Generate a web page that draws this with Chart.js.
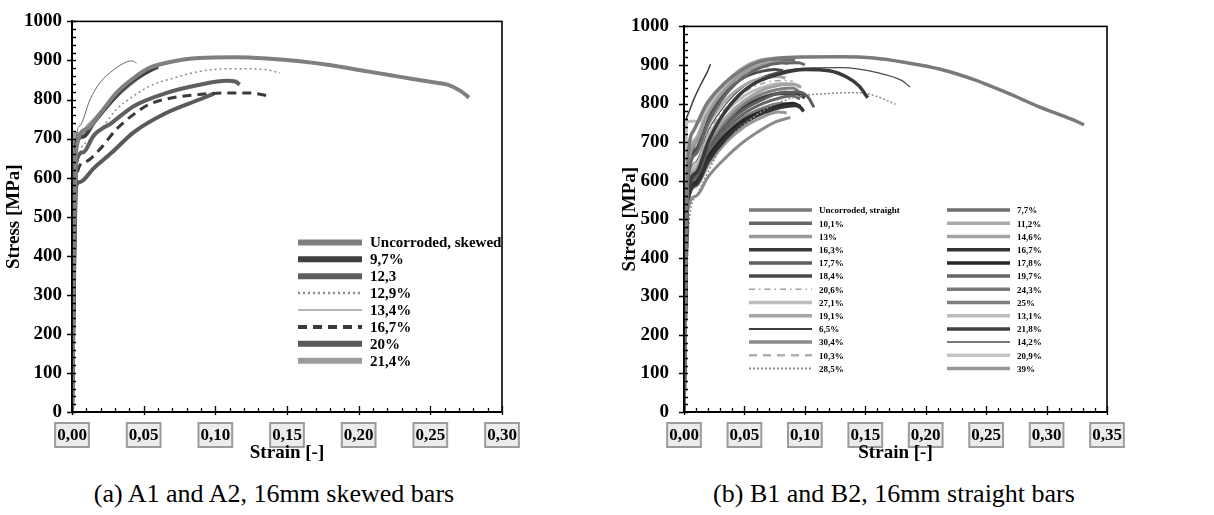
<!DOCTYPE html>
<html>
<head>
<meta charset="utf-8">
<script src="https://cdn.jsdelivr.net/npm/chart.js@4.4.1/dist/chart.umd.min.js"></script>
<style>
  html, body { margin: 0; padding: 0; background: #fff; }
  #wrap { position: relative; width: 1214px; height: 515px; overflow: hidden; background: #fff; }
  canvas { position: absolute; top: 0; }
  .cap { position: absolute; top: 479px; line-height: 30px; font-family: "Liberation Serif", "Times New Roman", serif; font-size: 26px; color: #000; white-space: nowrap; transform: translateX(-50%); }
</style>
</head>
<body>
<div id="wrap">
  <canvas id="cA" width="607" height="470" style="left:0px"></canvas>
  <canvas id="cB" width="607" height="470" style="left:607px"></canvas>
  <div class="cap" style="left:274px">(a) A1 and A2, 16mm skewed bars</div>
  <div class="cap" style="left:894px">(b) B1 and B2, 16mm straight bars</div>
</div>
<script>
// ---------- tick labels ----------
const yTickLabels = ['0','100','200','300','400','500','600','700','800','900','1000'];
const xTickLabelsA = ['0,00','0,05','0,10','0,15','0,20','0,25','0,30'];
const xTickLabelsB = ['0,00','0,05','0,10','0,15','0,20','0,25','0,30','0,35'];

// ---------- panel (a): [strain, stress MPa] ----------
const a_uncorroded = [[0,0],[0.003,673],[0.010,724],[0.020,766],[0.031,817],[0.043,855],[0.054,881],[0.071,898],[0.089,906],[0.113,908],[0.136,905],[0.159,898],[0.182,887],[0.206,872],[0.229,858],[0.252,844],[0.262,838],[0.271,822],[0.277,805]];
const a_9_7 = [[0,0],[0.003,690],[0.008,705],[0.015,740],[0.025,785],[0.035,825],[0.045,855],[0.053,872],[0.060,884]];
const a_12_3 = [[0,0],[0.003,640],[0.008,665],[0.015,707],[0.028,741],[0.043,783],[0.066,817],[0.089,838],[0.108,848],[0.114,846],[0.117,838]];
const a_12_9 = [[0,0],[0.003,600],[0.010,690],[0.020,724],[0.031,775],[0.043,809],[0.054,834],[0.071,855],[0.089,872],[0.113,879],[0.136,876],[0.145,868]];
const a_13_4 = [[0,0],[0.003,700],[0.0056,733],[0.0126,800],[0.0195,843],[0.029,876],[0.038,896],[0.042,899],[0.045,893]];
const a_16_7 = [[0,0],[0.003,600],[0.009,640],[0.0195,673],[0.031,724],[0.043,762],[0.054,788],[0.071,805],[0.089,813],[0.108,817],[0.124,817],[0.136,810]];
const a_20 = [[0,0],[0.003,580],[0.0056,589],[0.0149,623],[0.028,665],[0.043,716],[0.066,766],[0.089,800],[0.099,815]];
const a_21_4 = [[0,0],[0.002,712],[0.006,712],[0.012,735],[0.020,765],[0.030,805],[0.040,838],[0.050,865],[0.058,882]];

// ---------- panel (b): [strain, stress MPa] ----------
const b_uncorroded = [[0,0],[0.003,640],[0.008,730],[0.019,800],[0.033,851],[0.047,885],[0.060,906],[0.074,916],[0.091,920],[0.129,921],[0.157,918],[0.184,906],[0.212,889],[0.240,862],[0.267,828],[0.295,790],[0.320,760],[0.331,745]];
const b_10_1 = [[0,0],[0.003,590],[0.010,670],[0.020,750],[0.035,825],[0.050,870],[0.065,895],[0.080,905],[0.095,906],[0.100,900]];
const b_13 = [[0,0],[0.003,610],[0.010,700],[0.020,775],[0.035,840],[0.050,880],[0.065,900],[0.080,908],[0.086,903]];
const b_16_3 = [[0,0],[0.003,560],[0.010,620],[0.020,700],[0.030,760],[0.045,820],[0.060,855],[0.080,878],[0.100,888],[0.120,885],[0.135,868],[0.145,845],[0.152,815]];
const b_17_7 = [[0,0],[0.003,560],[0.010,610],[0.020,680],[0.035,745],[0.050,785],[0.065,810],[0.080,828],[0.095,830],[0.103,815],[0.1075,790]];
const b_18_4 = [[0,0],[0.003,600],[0.010,680],[0.020,760],[0.035,830],[0.050,868],[0.065,884],[0.075,888],[0.082,885]];
const b_20_6 = [[0,0],[0.003,580],[0.010,650],[0.020,725],[0.035,790],[0.050,830],[0.065,852],[0.080,860],[0.090,858]];
const b_27_1 = [[0,0],[0.002,752],[0.006,754],[0.012,754],[0.020,790],[0.035,850],[0.050,888],[0.062,903],[0.072,907],[0.076,903]];
const b_19_1 = [[0,0],[0.003,590],[0.010,670],[0.020,745],[0.035,810],[0.050,848],[0.065,866],[0.078,870],[0.084,866]];
const b_6_5 = [[0,0],[0.001,700],[0.003,770],[0.008,810],[0.014,850],[0.019,880],[0.022,902]];
const b_30_4 = [[0,0],[0.003,520],[0.010,560],[0.020,610],[0.033,655],[0.047,695],[0.061,726],[0.074,750],[0.088,764]];
const b_10_3 = [[0,0],[0.003,600],[0.010,690],[0.020,770],[0.035,838],[0.050,875],[0.062,892],[0.070,896]];
const b_28_5 = [[0,0],[0.004,480],[0.010,560],[0.030,680],[0.060,770],[0.090,815],[0.120,826],[0.145,828],[0.160,818],[0.175,798]];
const b_7_7 = [[0,0],[0.003,600],[0.010,690],[0.020,770],[0.035,840],[0.050,885],[0.065,906],[0.080,914],[0.092,912]];
const b_11_2 = [[0,0],[0.003,620],[0.010,710],[0.020,790],[0.035,855],[0.050,895],[0.065,914],[0.078,918],[0.088,915]];
const b_14_6 = [[0,0],[0.003,560],[0.010,630],[0.020,700],[0.035,765],[0.050,808],[0.065,835],[0.080,848],[0.090,850],[0.097,842]];
const b_16_7 = [[0,0],[0.003,540],[0.010,590],[0.020,650],[0.035,710],[0.050,750],[0.065,775],[0.080,790],[0.092,795],[0.097,788],[0.099,779]];
const b_17_8 = [[0,0],[0.003,545],[0.010,595],[0.020,660],[0.035,720],[0.050,758],[0.065,780],[0.080,795],[0.090,800],[0.0965,792]];
const b_19_7 = [[0,0],[0.003,555],[0.010,605],[0.020,670],[0.035,735],[0.050,775],[0.065,800],[0.080,815],[0.090,820],[0.096,812]];
const b_24_3 = [[0,0],[0.003,550],[0.010,600],[0.020,660],[0.035,725],[0.050,765],[0.065,788],[0.080,800],[0.088,798]];
const b_25 = [[0,0],[0.003,560],[0.010,620],[0.020,690],[0.035,755],[0.050,800],[0.065,825],[0.080,838],[0.090,840],[0.095,832]];
const b_13_1 = [[0,0],[0.003,570],[0.010,640],[0.020,715],[0.035,780],[0.050,820],[0.065,842],[0.080,852],[0.092,850],[0.096,844]];
const b_21_8 = [[0,0],[0.003,560],[0.010,615],[0.020,685],[0.035,750],[0.050,792],[0.065,815],[0.080,826],[0.093,826],[0.100,815]];
const b_14_2 = [[0,0],[0.003,580],[0.010,650],[0.020,730],[0.035,800],[0.050,845],[0.070,875],[0.100,892],[0.130,893],[0.160,880],[0.180,860],[0.187,843]];
const b_20_9 = [[0,0],[0.003,560],[0.010,625],[0.020,695],[0.035,760],[0.050,800],[0.065,825],[0.078,836],[0.085,834]];
const b_39 = [[0,0],[0.003,540],[0.010,585],[0.020,640],[0.035,700],[0.050,740],[0.065,765],[0.078,778],[0.085,776]];

// ---------- helpers ----------
const FONT = '"Liberation Serif", "Times New Roman", serif';
function pts(arr) { return arr.map(p => ({x: p[0], y: p[1]})); }
function ds(label, arr, color, w, dash, lw) {
  return { label, data: pts(arr), borderColor: color, backgroundColor: color, borderWidth: w,
           borderDash: dash || [], showLine: true, pointRadius: 0, pointHoverRadius: 0,
           cubicInterpolationMode: 'monotone', fill: false, legendWidth: lw || w + 1 };
}

const axisDeco = {
  id: 'axisDeco',
  beforeDraw(chart, args, o) {
    const ctx = chart.ctx, xs = chart.scales.x, a = chart.chartArea;
    ctx.save();
    ctx.font = 'bold 17px ' + FONT;
    xs.ticks.forEach((t, i) => {
      const px = xs.getPixelForValue(t.value);
      const w = ctx.measureText(o.xLabels[i]).width;
      ctx.fillStyle = '#ececec';
      ctx.fillRect(px - w / 2 - 2, a.bottom + 11, w + 4, 24);
      ctx.strokeStyle = '#9c9c9c'; ctx.lineWidth = 2;
      ctx.strokeRect(px - w / 2 - 2, a.bottom + 11, w + 4, 24);
    });
    ctx.restore();
  },
  afterDraw(chart, args, o) {
    const ctx = chart.ctx, xs = chart.scales.x, ys = chart.scales.y, a = chart.chartArea;
    ctx.save();
    ctx.strokeStyle = '#000';
    ctx.lineWidth = 1.6;
    ctx.strokeRect(a.left, a.top, a.right - a.left, a.bottom - a.top);
    ctx.lineWidth = 1.3;
    ctx.beginPath();
    for (let v = 0; v <= 1000 + 1e-9; v += 20) {
      const py = Math.round(ys.getPixelForValue(v)) + 0.5;
      if (Math.round(v) % 100 === 0) { ctx.moveTo(a.left - 5, py); ctx.lineTo(a.left + 4, py); }
      else { ctx.moveTo(a.left, py); ctx.lineTo(a.left + 4, py); }
    }
    const n = Math.round(o.xMax / 0.01);
    for (let k = 0; k <= n; k++) {
      const px = Math.round(xs.getPixelForValue(k * 0.01)) + 0.5;
      if (k % 5 === 0) { ctx.moveTo(px, a.bottom + 3); ctx.lineTo(px, a.bottom - 6); }
      else { ctx.moveTo(px, a.bottom); ctx.lineTo(px, a.bottom - 4); }
    }
    ctx.stroke();
    // legend
    const L = o.legend;
    ctx.font = 'bold ' + L.size + 'px ' + FONT;
    ctx.textBaseline = 'middle';
    ctx.textAlign = 'left';
    chart.data.datasets.forEach((d, i) => {
      const col = Math.floor(i / L.perCol), row = i % L.perCol;
      const x0 = a.left + L.x + col * L.colW;
      const y = a.top + L.y + row * L.rowH;
      ctx.save();
      ctx.strokeStyle = d.borderColor;
      ctx.lineWidth = d.legendWidth;
      ctx.setLineDash(d.borderDash || []);
      ctx.beginPath(); ctx.moveTo(x0, y); ctx.lineTo(x0 + L.len, y); ctx.stroke();
      ctx.restore();
      ctx.fillStyle = '#000';
      ctx.fillText(d.label, x0 + L.textDx, y + 1);
    });
    ctx.restore();
  }
};

function makeChart(id, datasets, xMax, xLabels, padR, yW, yPad, titlePad, legend) {
  return new Chart(document.getElementById(id), {
    type: 'scatter',
    data: { datasets },
    plugins: [axisDeco],
    options: {
      responsive: false, animation: false, devicePixelRatio: 1,
      layout: { padding: { left: 0, top: 18, right: padR, bottom: 6 } },
      plugins: { legend: { display: false }, tooltip: { enabled: false },
                 axisDeco: { xLabels, xMax, legend } },
      scales: {
        x: {
          type: 'linear', min: 0, max: xMax,
          afterFit: s => { s.height = 52; },
          grid: { display: false, drawTicks: false },
          border: { display: true, color: '#000', width: 2 },
          ticks: { stepSize: 0.05, autoSkip: false, maxRotation: 0, padding: 13, color: '#000',
                   font: { family: FONT, size: 17, weight: 'bold' },
                   callback: (v, i) => xLabels[i] },
          title: { display: true, text: 'Strain [-]', color: '#000',
                   font: { family: FONT, size: 19, weight: 'bold', lineHeight: 1.1 },
                   padding: { top: 0, bottom: 0 } }
        },
        y: {
          type: 'linear', min: 0, max: 1000,
          afterFit: s => { s.width = yW; },
          grid: { display: false, drawTicks: false },
          border: { display: true, color: '#000', width: 2 },
          ticks: { stepSize: 100, padding: yPad, color: '#000',
                   font: { family: FONT, size: 19, weight: 'bold' },
                   callback: (v, i) => yTickLabels[i] },
          title: { display: true, text: 'Stress [MPa]', color: '#000',
                   font: { family: FONT, size: 19, weight: 'bold', lineHeight: 1.1 },
                   padding: { top: titlePad, bottom: 0 } }
        }
      }
    }
  });
}

const dsA = [
  ds('Uncorroded, skewed', a_uncorroded, '#7f7f7f', 4, null, 6),
  ds('9,7%', a_9_7, '#404040', 4, null, 6),
  ds('12,3', a_12_3, '#5f5f5f', 4, null, 6),
  ds('12,9%', a_12_9, '#8c8c8c', 1.5, [2, 3], 2.5),
  ds('13,4%', a_13_4, '#6a6a6a', 1, null, 1.2),
  ds('16,7%', a_16_7, '#3a3a3a', 3, [9, 6], 4),
  ds('20%', a_20, '#5a5a5a', 4, null, 6),
  ds('21,4%', a_21_4, '#9b9b9b', 4, null, 6)
];

const dsB = [
  ds('Uncorroded, straight', b_uncorroded, '#7a7a7a', 3.5, null, 3.5),
  ds('10,1%', b_10_1, '#666666', 3, null, 3.5),
  ds('13%', b_13, '#9a9a9a', 3, null, 3.5),
  ds('16,3%', b_16_3, '#3a3a3a', 3.5, null, 3.5),
  ds('17,7%', b_17_7, '#5e5e5e', 3, null, 3.5),
  ds('18,4%', b_18_4, '#4a4a4a', 3, null, 3.5),
  ds('20,6%', b_20_6, '#a0a0a0', 1.5, [6, 4, 1.5, 4], 1.5),
  ds('27,1%', b_27_1, '#bdbdbd', 3, null, 3.5),
  ds('19,1%', b_19_1, '#a6a6a6', 3, null, 3.5),
  ds('6,5%', b_6_5, '#3c3c3c', 1.5, null, 2),
  ds('30,4%', b_30_4, '#8a8a8a', 3, null, 3.5),
  ds('10,3%', b_10_3, '#b0b0b0', 2, [8, 6], 2.5),
  ds('28,5%', b_28_5, '#8c8c8c', 1.5, [2, 2], 2),
  ds('7,7%', b_7_7, '#6e6e6e', 3, null, 3.5),
  ds('11,2%', b_11_2, '#ababab', 3, null, 3.5),
  ds('14,6%', b_14_6, '#a3a3a3', 3, null, 3.5),
  ds('16,7%', b_16_7, '#333333', 3.5, null, 3.5),
  ds('17,8%', b_17_8, '#262626', 3.5, null, 3.5),
  ds('19,7%', b_19_7, '#666666', 3, null, 3.5),
  ds('24,3%', b_24_3, '#7a7a7a', 3, null, 3.5),
  ds('25%', b_25, '#7f7f7f', 3, null, 3.5),
  ds('13,1%', b_13_1, '#bcbcbc', 3, null, 3.5),
  ds('21,8%', b_21_8, '#404040', 3.5, null, 3.5),
  ds('14,2%', b_14_2, '#4d4d4d', 1.2, null, 1.5),
  ds('20,9%', b_20_9, '#c4c4c4', 3, null, 3.5),
  ds('39%', b_39, '#979797', 3, null, 3.5)
];

makeChart('cA', dsA, 0.30, xTickLabelsA, 105, 72, 10, 3.5,
  { x: 226, y: 221, len: 64, textDx: 72, rowH: 16.9, perCol: 8, colW: 0, size: 15 });
makeChart('cB', dsB, 0.35, xTickLabelsB, 107, 77, 15, 12.5,
  { x: 65, y: 183.7, len: 63, textDx: 70, rowH: 13.2, perCol: 13, colW: 198, size: 9 });
</script>
</body>
</html>
